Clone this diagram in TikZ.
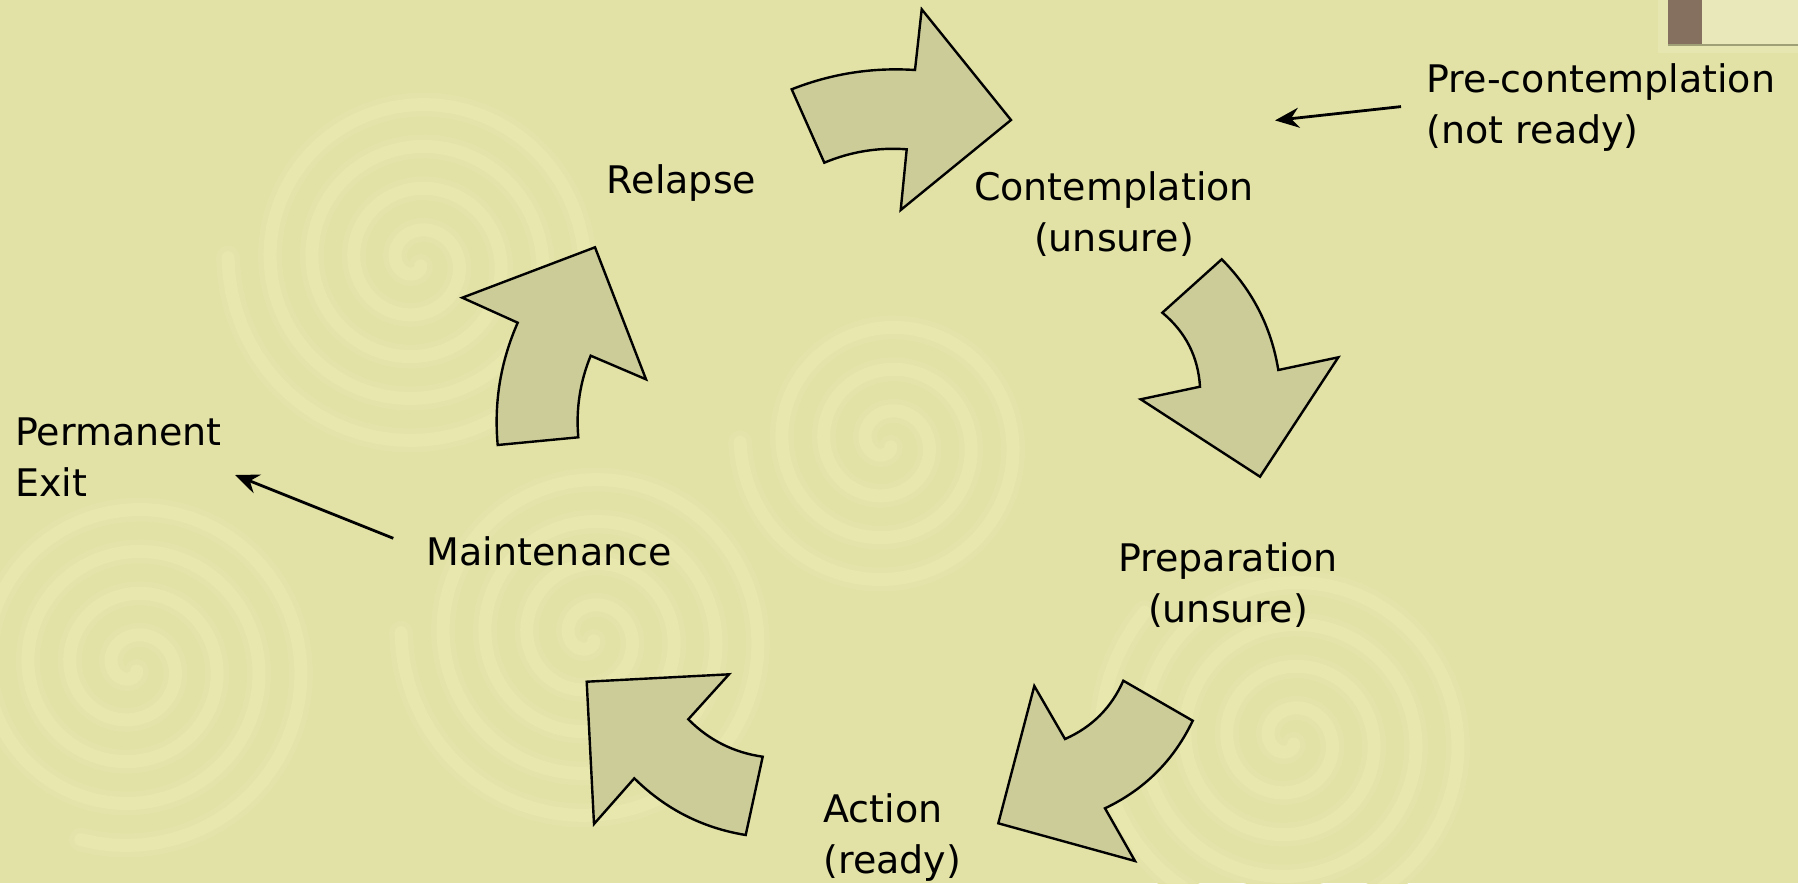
\documentclass[tikz,border=0pt]{standalone}
\usepackage{fontspec}
\setmainfont{DejaVu Sans}
\usetikzlibrary{calc,arrows.meta}
\definecolor{bgcol}{RGB}{226,226,166}
\definecolor{swirlcol}{RGB}{231,231,174}
\definecolor{swirlsoft}{RGB}{228,228,170}
\definecolor{arrowfill}{RGB}{204,204,153}
\definecolor{browncol}{RGB}{133,112,96}
\definecolor{stripcol}{RGB}{232,232,186}
\definecolor{haloc}{RGB}{230,230,176}
\definecolor{linecol}{RGB}{160,160,118}
\newcommand\mkq[4]{\coordinate (#1) at ($(#2)!.5!(#3)!#4!90:(#3)$);}
\begin{document}
\begin{tikzpicture}[x=1pt,y=-1pt,
  lbl/.style={font=\fontsize{38}{51}\selectfont, inner sep=0pt, text=black},
  cyc/.style={fill=arrowfill, draw=black, line width=2.4pt, line join=miter},
  ptr/.style={line width=2.8pt, -{Stealth[length=24pt,width=20pt,inset=8pt]}},
  swirlwide/.style={draw=swirlsoft, line width=24pt, line cap=round},
  swirl/.style={draw=swirlcol, line width=13pt, line cap=round}]
\fill[bgcol] (0,0) rectangle (1798,883);
\useasboundingbox (0,0) rectangle (1798,883);
% background swirls
\begin{scope}
\clip (0,0) rectangle (1798,883);
\foreach \cx/\cy/\tm in {417/262/28.3, 887/443/22, 133/667/27, 590/637/28.3, 1290/740/29}{
  \draw[swirlwide] plot[domain=0.8:\tm, samples=300, variable=\q] ({\cx+6.68*\q*cos(\q r)}, {\cy+6.68*\q*sin(\q r)});
  \draw[swirl] plot[domain=0.8:\tm, samples=300, variable=\q] ({\cx+6.68*\q*cos(\q r)}, {\cy+6.68*\q*sin(\q r)});
}
\end{scope}
% top-right corner element
\fill[haloc] (1658,0) rectangle (1798,53);
\fill[stripcol] (1702,0) rectangle (1798,45);
\fill[browncol] (1668,0) rectangle (1702,45);
\draw[linecol, line width=2pt] (1668,45) -- (1798,45);
% arrow 1 (Relapse -> Contemplation)
\coordinate (a1A) at (791.7,89.3);
\coordinate (a1B) at (915,70);
\coordinate (a1C) at (921.7,9.3);
\coordinate (a1D) at (1011,120);
\coordinate (a1E) at (900.7,210);
\coordinate (a1F) at (906.7,149.3);
\coordinate (a1G) at (824.3,162.7);
\mkq{q1o}{a1A}{a1B}{14pt}
\mkq{q1i}{a1F}{a1G}{-10pt}
\draw[cyc] (a1A) .. controls ($(a1A)!2/3!(q1o)$) and ($(a1B)!2/3!(q1o)$) .. (a1B) -- (a1C) -- (a1D) -- (a1E) -- (a1F)
  .. controls ($(a1F)!2/3!(q1i)$) and ($(a1G)!2/3!(q1i)$) .. (a1G) -- cycle;
% arrow 2 (Contemplation -> Preparation)
\coordinate (a2A) at (1221.7,259.3);
\coordinate (a2B) at (1278.3,370);
\coordinate (a2C) at (1338.3,357.3);
\coordinate (a2D) at (1260,476.7);
\coordinate (a2E) at (1140.7,399.3);
\coordinate (a2F) at (1200,386.7);
\coordinate (a2G) at (1162.3,312.7);
\mkq{q2o}{a2A}{a2B}{20pt}
\mkq{q2i}{a2F}{a2G}{-18pt}
\draw[cyc] (a2A) .. controls ($(a2A)!2/3!(q2o)$) and ($(a2B)!2/3!(q2o)$) .. (a2B) -- (a2C) -- (a2D) -- (a2E) -- (a2F)
  .. controls ($(a2F)!2/3!(q2i)$) and ($(a2G)!2/3!(q2i)$) .. (a2G) -- cycle;
% arrow 3 (Preparation -> Action)
\coordinate (a3A) at (1123.3,680.7);
\coordinate (a3B) at (1192.7,720.7);
\coordinate (a3C) at (1105,808.3);
\coordinate (a3D) at (1135,861);
\coordinate (a3E) at (998.3,823.3);
\coordinate (a3F) at (1034.3,686);
\coordinate (a3G) at (1065,739);
\mkq{q3o}{a3B}{a3C}{22pt}
\mkq{q3i}{a3G}{a3A}{-16pt}
\draw[cyc] (a3A) -- (a3B) .. controls ($(a3B)!2/3!(q3o)$) and ($(a3C)!2/3!(q3o)$) .. (a3C) -- (a3D) -- (a3E) -- (a3F) -- (a3G)
  .. controls ($(a3G)!2/3!(q3i)$) and ($(a3A)!2/3!(q3i)$) .. (a3A) -- cycle;
% arrow 4 (Action -> Maintenance)
\coordinate (a4T) at (586.7,681.7);
\coordinate (a4H) at (729,674.3);
\coordinate (a4I) at (688.3,719.3);
\coordinate (a4J) at (762.7,756.7);
\coordinate (a4K) at (745.7,835);
\coordinate (a4L) at (634.3,778.3);
\coordinate (a4M) at (594,824);
\mkq{q4i}{a4I}{a4J}{-14pt}
\mkq{q4o}{a4K}{a4L}{20pt}
\draw[cyc] (a4T) -- (a4H) -- (a4I) .. controls ($(a4I)!2/3!(q4i)$) and ($(a4J)!2/3!(q4i)$) .. (a4J) -- (a4K)
  .. controls ($(a4K)!2/3!(q4o)$) and ($(a4L)!2/3!(q4o)$) .. (a4L) -- (a4M) -- cycle;
% arrow 5 (Maintenance -> Relapse)
\coordinate (a5P) at (497.7,445);
\coordinate (a5Q) at (578.3,437.3);
\coordinate (a5R) at (590.7,355.7);
\coordinate (a5S) at (646,379.3);
\coordinate (a5T) at (595,247.3);
\coordinate (a5U) at (462.3,297.7);
\coordinate (a5V) at (517.7,322.7);
\mkq{q5i}{a5Q}{a5R}{10pt}
\mkq{q5o}{a5V}{a5P}{-16pt}
\draw[cyc] (a5P) -- (a5Q) .. controls ($(a5Q)!2/3!(q5i)$) and ($(a5R)!2/3!(q5i)$) .. (a5R) -- (a5S) -- (a5T) -- (a5U) -- (a5V)
  .. controls ($(a5V)!2/3!(q5o)$) and ($(a5P)!2/3!(q5o)$) .. (a5P) -- cycle;
% labels (base anchor = baseline of last line)
\node[lbl, anchor=base west] (relapse) at (606.7,193) {Relapse};
\node[lbl, anchor=base, align=center] (contemp) at (1114,251) {Contemplation\\(unsure)};
\node[lbl, anchor=base west, align=left] (precon) at (1426.5,143) {Pre-contemplation\\(not ready)};
\node[lbl, anchor=base, align=center] (prep) at (1228,622.7) {Preparation\\(unsure)};
\node[lbl, anchor=base west, align=left] (action) at (823.3,873) {Action\\(ready)};
\node[lbl, anchor=base west] (maint) at (426.7,565) {Maintenance};
\node[lbl, anchor=base west, align=left] (exit) at (15,496) {Permanent\\Exit};
% pointer arrows
\coordinate (pcTail) at (1401,106.6);
\coordinate (pcTip) at (1275,120.4);
\draw[ptr] (pcTail) -- (pcTip);
\coordinate (peTail) at (393.3,538.3);
\coordinate (peTip) at (235,475);
\draw[ptr] (peTail) -- (peTip);
\end{tikzpicture}
\end{document}
